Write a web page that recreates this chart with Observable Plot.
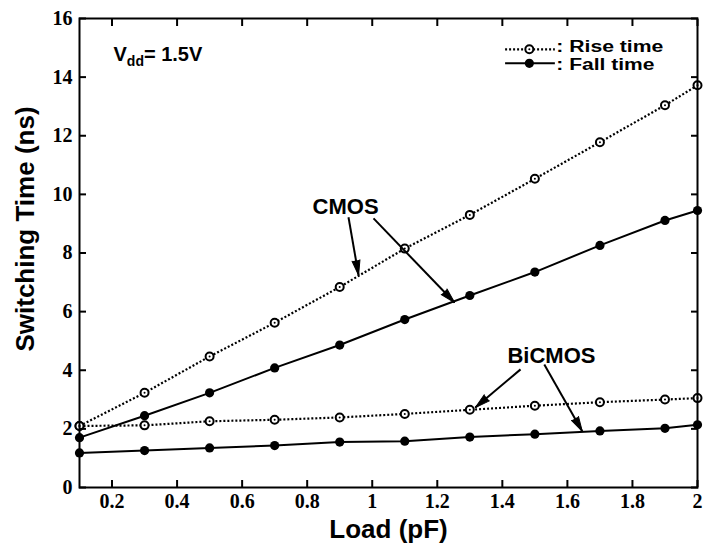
<!DOCTYPE html>
<html><head><meta charset="utf-8">
<script src="https://cdn.jsdelivr.net/npm/d3@7"></script>
<script src="https://cdn.jsdelivr.net/npm/@observablehq/plot@0.6"></script>
<style>
html,body{margin:0;padding:0;background:#fff;}
#chart{width:710px;height:545px;}
</style>
</head><body><div id="chart"></div>
<script>
// ---- data ----
const load = [0.1, 0.3, 0.5, 0.7, 0.9, 1.1, 1.3, 1.5, 1.7, 1.9, 2.0];
const cmosRise   = [2.10, 3.23, 4.47, 5.62, 6.84, 8.15, 9.30, 10.53, 11.78, 13.04, 13.72];
const cmosFall   = [1.70, 2.45, 3.23, 4.08, 4.86, 5.73, 6.55, 7.35, 8.26, 9.11, 9.45];
const bicmosRise = [2.10, 2.12, 2.26, 2.31, 2.39, 2.51, 2.65, 2.79, 2.91, 3.00, 3.05];
const bicmosFall = [1.18, 1.26, 1.35, 1.43, 1.55, 1.58, 1.72, 1.82, 1.93, 2.02, 2.14];
const xTicks = [0.2, 0.4, 0.6, 0.8, 1, 1.2, 1.4, 1.6, 1.8, 2];
const yTicks = [0, 2, 4, 6, 8, 10, 12, 14, 16];
const xLabel = "Load (pF)";
const yLabel = "Switching Time (ns)";
const vddLabel = "Vdd= 1.5V";
const legendLabels = [": Rise time", ": Fall time"];

// annotation labels and arrows (data units)
const annoLabels = [
  {text: "CMOS", x: 0.918, y: 9.56},
  {text: "BiCMOS", x: 1.551, y: 4.50}
];
const annoArrows = [
  {x1: 0.927, y1: 9.22, x2: 0.958, y2: 7.24},
  {x1: 1.004, y1: 9.18, x2: 1.253, y2: 6.31},
  {x1: 1.456, y1: 4.03, x2: 1.317, y2: 2.73},
  {x1: 1.529, y1: 4.20, x2: 1.646, y2: 1.91}
];

const series = [
  {tech: "CMOS", kind: "rise", values: cmosRise},
  {tech: "CMOS", kind: "fall", values: cmosFall},
  {tech: "BiCMOS", kind: "rise", values: bicmosRise},
  {tech: "BiCMOS", kind: "fall", values: bicmosFall}
];
const rows = series.flatMap(s => load.map((x, i) => ({x, y: s.values[i], tech: s.tech, kind: s.kind})));
const rise = rows.filter(d => d.kind === "rise");
const fall = rows.filter(d => d.kind === "fall");

const W = 710, H = 545, mL = 79, mR = 13, mT = 18, mB = 58;
const xDom = [0.1, 2], yDom = [0, 16];
const kx = (W - mL - mR) / (xDom[1] - xDom[0]);
const ky = (H - mT - mB) / (yDom[1] - yDom[0]);
const heads = annoArrows.map(a => ({
  x: a.x2, y: a.y2,
  rot: Math.atan2((a.x2 - a.x1) * kx, (a.y2 - a.y1) * ky) * 180 / Math.PI
}));

const legendRise = [{x1: 1.41, x2: 1.563, y: 14.95, xd: 1.483, xt: 1.566, yt: 15.03}];
const legendFall = [{x1: 1.41, x2: 1.563, y: 14.47, xd: 1.483, xt: 1.566, yt: 14.42}];

const dash = "2,2";
const fmt = d => String(+d.toFixed(1));
const serif = "'Liberation Serif', 'Times New Roman', serif";

const plot = Plot.plot({
  width: W, height: H,
  marginLeft: mL, marginRight: mR, marginTop: mT, marginBottom: mB,
  x: {domain: xDom},
  y: {domain: yDom},
  style: {fontFamily: "'Liberation Sans', Arial, sans-serif", background: "white", color: "black"},
  marks: [
    Plot.line(rise, {x: "x", y: "y", z: "tech", stroke: "black", strokeWidth: 2.2, strokeDasharray: dash, strokeLinecap: "butt"}),
    Plot.line(fall, {x: "x", y: "y", z: "tech", stroke: "black", strokeWidth: 2}),
    Plot.dot(rise, {x: "x", y: "y", r: 4, fill: "white", stroke: "black", strokeWidth: 2}),
    Plot.dot(rise, {x: "x", y: "y", r: 1, fill: "black"}),
    Plot.dot(fall, {x: "x", y: "y", r: 4.6, fill: "black"}),
    Plot.frame({stroke: "black", strokeWidth: 2}),
    Plot.axisX({anchor: "bottom", ticks: xTicks, tickSize: -7, tickPadding: 13, tickFormat: fmt,
      fontFamily: serif, fontWeight: "bold", fontSize: 20, strokeWidth: 2, label: null}),
    Plot.axisX({anchor: "top", ticks: xTicks, tickSize: -7, tickFormat: () => "", strokeWidth: 2, label: null}),
    Plot.axisY({anchor: "left", ticks: yTicks, tickSize: -7, tickPadding: 14, tickFormat: fmt,
      fontFamily: serif, fontWeight: "bold", fontSize: 20, strokeWidth: 2, label: null}),
    Plot.axisY({anchor: "right", ticks: yTicks, tickSize: -7, tickFormat: () => "", strokeWidth: 2, label: null}),
    // axis titles
    Plot.text([xLabel], {text: d => d, frameAnchor: "bottom", dy: 42, lineAnchor: "middle",
      fontSize: 26, fontWeight: "bold"}),
    Plot.text([yLabel], {text: d => d, frameAnchor: "left", dx: -54, dy: -24, rotate: -90,
      lineAnchor: "middle", textAnchor: "middle", fontSize: 26, fontWeight: "bold"}),
    // Vdd label
    Plot.text([vddLabel], {text: d => d, frameAnchor: "top-left", dx: 34, dy: 36,
      textAnchor: "start", lineAnchor: "middle", fontSize: 20, fontWeight: "bold"}),
    // legend
    Plot.ruleY(legendRise, {y: "y", x1: "x1", x2: "x2", stroke: "black", strokeWidth: 2.2, strokeDasharray: dash, strokeLinecap: "butt"}),
    Plot.dot(legendRise, {x: "xd", y: "y", r: 4, fill: "white", stroke: "black", strokeWidth: 2}),
    Plot.dot(legendRise, {x: "xd", y: "y", r: 1, fill: "black"}),
    Plot.text(legendRise, {x: "xt", y: "yt", text: () => legendLabels[0], textAnchor: "start", lineAnchor: "middle",
      fontSize: 16, fontWeight: "bold"}),
    Plot.ruleY(legendFall, {y: "y", x1: "x1", x2: "x2", stroke: "black", strokeWidth: 2}),
    Plot.dot(legendFall, {x: "xd", y: "y", r: 4.6, fill: "black"}),
    Plot.text(legendFall, {x: "xt", y: "yt", text: () => legendLabels[1], textAnchor: "start", lineAnchor: "middle",
      fontSize: 16, fontWeight: "bold"}),
    // annotations
    Plot.text(annoLabels, {x: "x", y: "y", text: "text", lineAnchor: "middle", fontSize: 22, fontWeight: "bold"}),
    Plot.link(annoArrows, {x1: "x1", y1: "y1", x2: "x2", y2: "y2", stroke: "black", strokeWidth: 2}),
    Plot.vector(heads, {x: "x", y: "y", rotate: "rot", anchor: "end", shape: "spike", length: 15, r: 4,
      fill: "black", stroke: "black", strokeWidth: 1})
  ]
});

// subscript for Vdd and horizontally stretched legend text
d3.select(plot).selectAll("text").each(function() {
  const t = d3.select(this);
  const s = this.textContent;
  if (s === vddLabel) {
    t.text(null);
    t.append("tspan").text("V");
    t.append("tspan").attr("font-size", 14).attr("dy", 5).text("dd");
    t.append("tspan").attr("dy", -5).text("= 1.5V");
  }
  if (s === legendLabels[0]) t.attr("textLength", 107).attr("lengthAdjust", "spacingAndGlyphs");
  if (s === legendLabels[1]) t.attr("textLength", 98).attr("lengthAdjust", "spacingAndGlyphs");
});

document.getElementById("chart").appendChild(plot);
</script>
</body></html>
